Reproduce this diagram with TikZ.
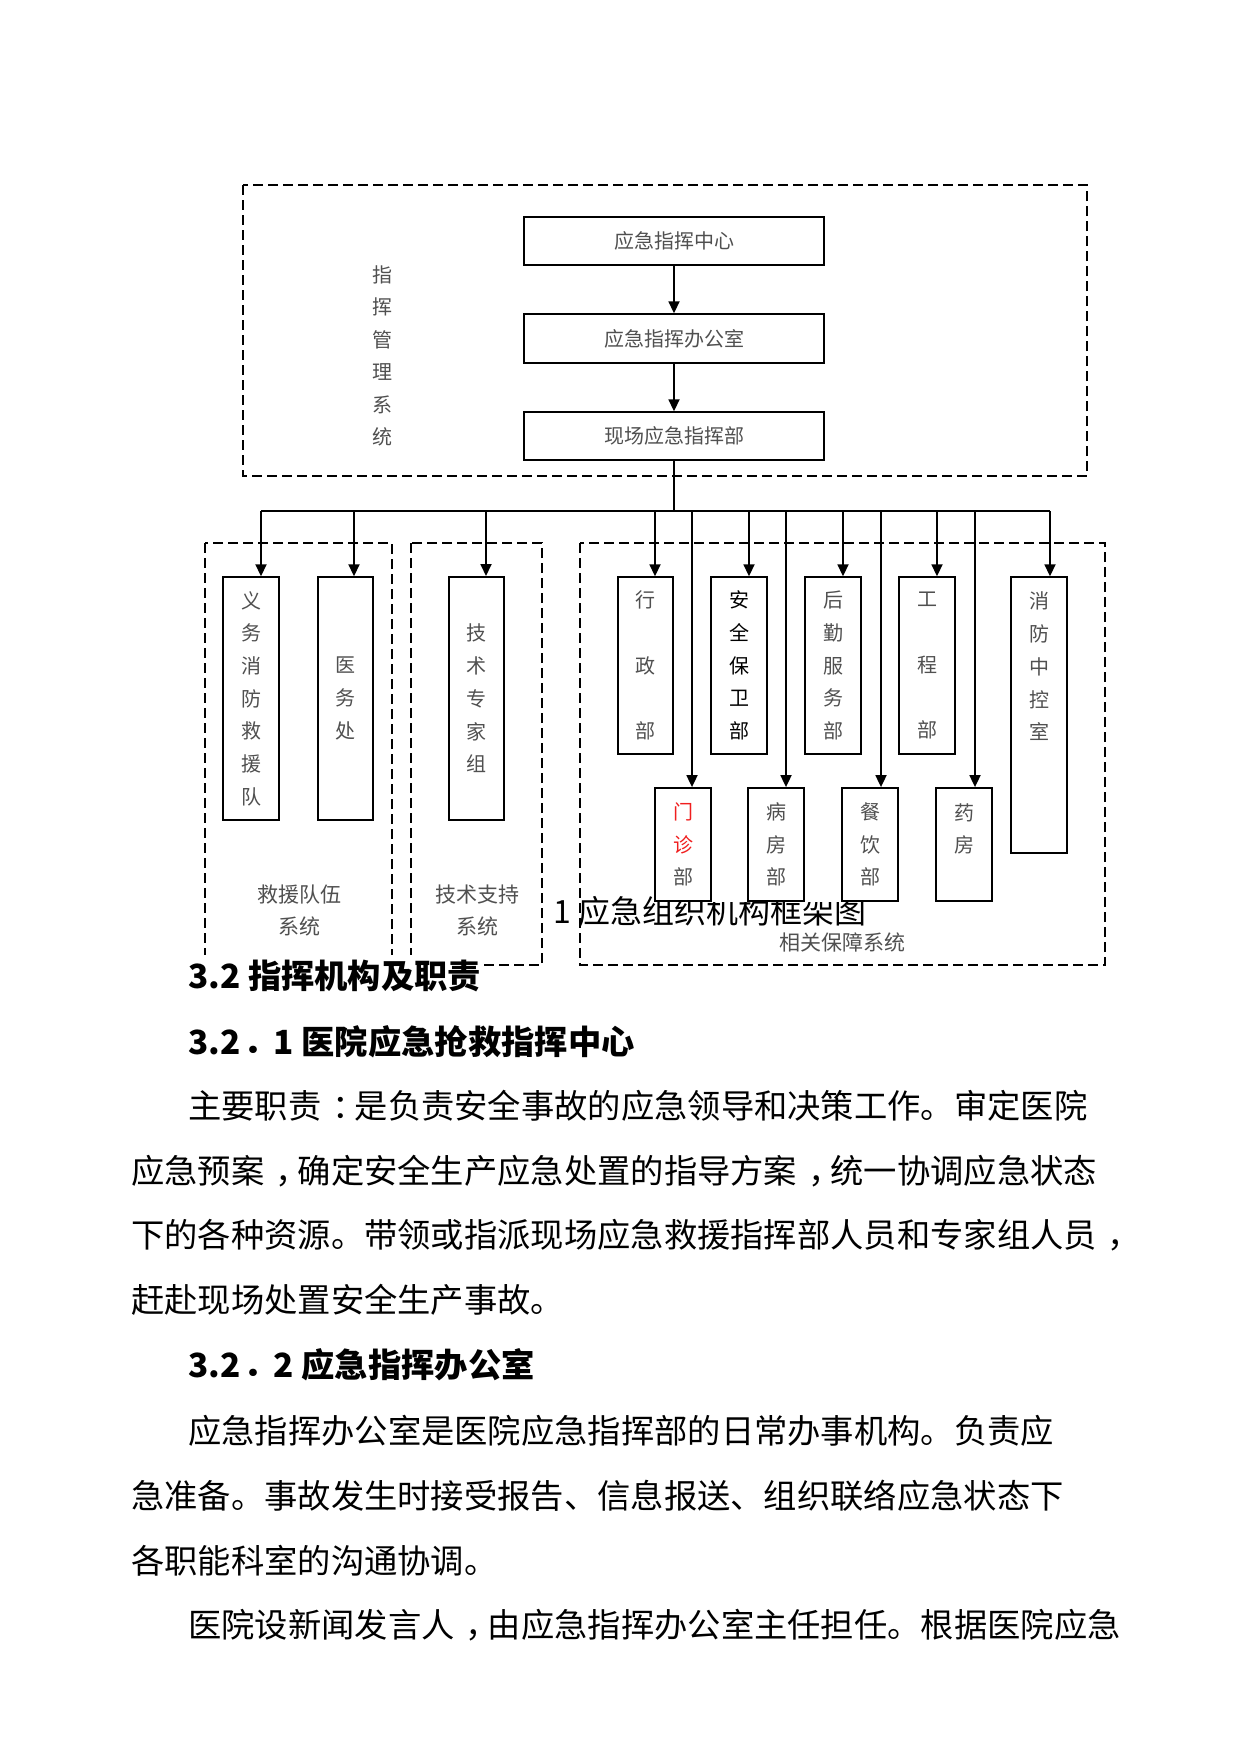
\documentclass[tikz,border=0pt]{standalone}
\usepackage{fontspec}
\setmainfont{Noto Sans CJK SC}
\newcommand\cpu[2][0.33em]{\makebox[1em][l]{\kern#1 #2}}
\usetikzlibrary{arrows.meta}
\definecolor{txtgray}{RGB}{80,80,80}
\definecolor{mzred}{RGB}{240,30,30}
\begin{document}
\begin{tikzpicture}[x=1pt,y=-1pt,
  dbox/.style={draw=black, line width=1.6pt, dash pattern=on 10pt off 5pt},
  cbox/.style={draw=black, line width=1.4pt, fill=white, inner sep=0pt, minimum width=300pt, minimum height=48pt, font=\fontsize{20}{24}\selectfont, text=txtgray},
  vbox/.style={draw=black, line width=1.4pt, fill=white, inner sep=0pt, minimum width=56pt, align=center, font=\fontsize{20}{32.7}\selectfont, text=txtgray},
  arr/.style={line width=1.8pt, -{Triangle[length=12pt,width=11pt]}},
  ln/.style={line width=1.5pt},
  lbl/.style={font=\fontsize{21}{32.7}\selectfont, text=txtgray, align=center, inner sep=0pt},
  body/.style={font=\fontsize{33.3}{40}\selectfont, anchor=west, inner sep=0pt},
  head/.style={font=\bfseries\fontsize{33.3}{40}\selectfont, anchor=west, inner sep=0pt},
]
\useasboundingbox (0,0) rectangle (1241,1754);
\fill[white] (0,0) rectangle (1241,1754);

% caption (partly covered by the chart)
\node[anchor=base west, inner sep=0pt, font=\fontsize{32}{38}\selectfont] (cap) at (553,923) {1 应急组织机构框架图};
\fill[white] (655,860) rectangle (898,902);

% group frames
\draw[dbox] (243,185) rectangle (1087,476);
\draw[dbox] (205,543) rectangle (392,965);
\draw[dbox] (411,543) rectangle (542,965);
\draw[dbox] (580,543) rectangle (1105,965);

% command system
\node[lbl, font=\fontsize{20}{32.5}\selectfont] (zhgl) at (382,356) {指\\挥\\管\\理\\系\\统};
\node[cbox] (c1) at (674,241) {应急指挥中心};
\node[cbox, minimum height=49pt] (c2) at (674,338.5) {应急指挥办公室};
\node[cbox] (c3) at (674,436) {现场应急指挥部};
\draw[arr] (c1) -- (c2);
\draw[arr] (c2) -- (c3);

% bus
\coordinate (bus) at (674,511);
\coordinate (d1) at (261,511);
\coordinate (d2) at (354,511);
\coordinate (d3) at (486,511);
\coordinate (d4) at (655,511);
\coordinate (d5) at (692,511);
\coordinate (d6) at (749,511);
\coordinate (d7) at (786,511);
\coordinate (d8) at (843,511);
\coordinate (d9) at (881,511);
\coordinate (d10) at (937,511);
\coordinate (d11) at (975,511);
\coordinate (d12) at (1050,511);
\draw[line width=1.1pt] (c3.south) -- (bus);
\draw[ln] (d1) -- (d12);

% boxes
\node[vbox, minimum height=243pt] (yw) at (251,698.5) {义\\务\\消\\防\\救\\援\\队};
\node[vbox, minimum width=55pt, minimum height=243pt] (ywc) at (345.5,698.5) {医\\务\\处};
\node[vbox, minimum width=55pt, minimum height=243pt, line width=2pt] (js) at (476.5,698.5) {技\\术\\专\\家\\组};

\node[vbox, minimum width=55pt, minimum height=177pt] (xz) at (645.5,665.5) {行\\[32.7pt]政\\[32.7pt]部};
\node[vbox, minimum height=177pt, text=black] (aq) at (739,665.5) {安\\全\\保\\卫\\部};
\node[vbox, minimum height=177pt] (hq) at (833,665.5) {后\\勤\\服\\务\\部};
\node[vbox, minimum height=177pt] (gc) at (927,665.5) {工\\[32.7pt]程\\[32.7pt]部};
\node[vbox, minimum height=276pt] (xf) at (1039,715) {消\\防\\中\\控\\室\\~\\~\\~};

\node[vbox, minimum height=113pt, line width=1.8pt] (mz) at (683,844.5) {\textcolor{mzred}{门}\\\textcolor{mzred}{诊}\\部};
\node[vbox, minimum height=113pt, line width=1.8pt] (bf) at (776,844.5) {病\\房\\部};
\node[vbox, minimum height=113pt, line width=1.8pt] (cy) at (870,844.5) {餐\\饮\\部};
\node[vbox, minimum height=113pt, line width=1.8pt] (yf) at (964,844.5) {药\\房\\~};

% arrows
\draw[arr] (d1) -- (d1 |- yw.north);
\draw[arr] (d2) -- (d2 |- ywc.north);
\draw[arr] (d3) -- (d3 |- js.north);
\draw[arr] (d4) -- (d4 |- xz.north);
\draw[arr] (d5) -- (d5 |- mz.north);
\draw[arr] (d6) -- (d6 |- aq.north);
\draw[arr] (d7) -- (d7 |- bf.north);
\draw[arr] (d8) -- (d8 |- hq.north);
\draw[arr] (d9) -- (d9 |- cy.north);
\draw[arr] (d10) -- (d10 |- gc.north);
\draw[arr] (d11) -- (d11 |- yf.north);
\draw[arr] (d12) -- (d12 |- xf.north);

% group labels
\node[lbl] (jy) at (299,910.5) {救援队伍\\系统};
\node[lbl] (jszc) at (477,910.5) {技术支持\\系统};
\node[lbl] (xgbz) at (842,942) {相关保障系统};

% text
\node[head, fill=white, inner ysep=5pt, inner xsep=0pt] (h1) at (188,976) {3.2 指挥机构及职责};
\node[head] (h2) at (188,1042) {3.2\cpu[0.08em]{．}1 医院应急抢救指挥中心};
\node[body] (l1) at (188,1106) {主要职责\cpu{：}是负责安全事故的应急领导和决策工作。审定医院};
\node[body] (l2) at (131,1171) {应急预案\cpu{，}确定安全生产应急处置的指导方案\cpu{，}统一协调应急状态};
\node[body] (l3) at (131,1235) {下的各种资源。带领或指派现场应急救援指挥部人员和专家组人员\cpu{，}};
\node[body] (l4) at (131,1300) {赶赴现场处置安全生产事故。};
\node[head] (h3) at (188,1365) {3.2\cpu[0.08em]{．}2 应急指挥办公室};
\node[body] (l5) at (188,1431) {应急指挥办公室是医院应急指挥部的日常办事机构。负责应};
\node[body] (l6) at (131,1496) {急准备。事故发生时接受报告、信息报送、组织联络应急状态下};
\node[body] (l7) at (131,1561) {各职能科室的沟通协调。};
\node[body] (l8) at (188,1625) {医院设新闻发言人\cpu{，}由应急指挥办公室主任担任。根据医院应急};
\end{tikzpicture}
\end{document}
